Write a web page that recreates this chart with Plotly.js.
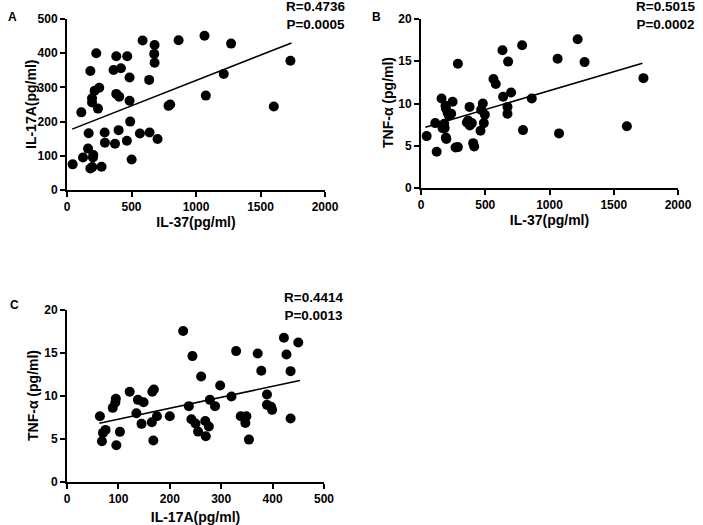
<!DOCTYPE html>
<html>
<head>
<meta charset="utf-8">
<script src="https://cdn.plot.ly/plotly-3.0.1.min.js"></script>
<style>
  html, body { margin: 0; padding: 0; background: #fff; }
  #chart { width: 703px; height: 525px; }
</style>
</head>
<body>
<div id="chart"></div>
<script>
// Panel A: IL-37 vs IL-17A
const il37A = [44, 111, 124, 168, 163, 181, 181, 196, 194, 194, 204, 201, 214, 227, 240, 250, 268, 292, 294,
    361, 372, 382, 382, 405, 400, 418, 464, 467, 485, 485, 490, 501, 565, 586, 637, 640, 679, 676, 679, 702,
    787, 800, 865, 1066, 1076, 1215, 1272, 1603, 1732];
const il17A_A = [75, 227, 95, 166, 121, 348, 63, 67, 268, 256, 102, 95, 290, 400, 238, 299, 68, 168, 138,
    351, 135, 391, 281, 273, 175, 356, 144, 391, 329, 261, 200, 89, 165, 437, 322, 168, 424, 398, 372, 149,
    246, 250, 438, 451, 276, 339, 428, 244, 378];
const fitAx = [40, 1740];
const fitAy = [178, 430];

// Panel B: IL-37 vs TNF-a
const il37B = [44, 111, 122, 160, 168, 181, 184, 191, 194, 194, 197, 207, 217, 235, 246, 269, 287, 287,
    357, 367, 378, 380, 396, 406, 414, 463, 468, 481, 489, 497, 564, 582, 634, 639, 673, 673, 678, 701,
    787, 794, 862, 1063, 1074, 1219, 1273, 1602, 1731];
const tnfB = [6.14, 7.68, 4.29, 10.6, 7.09, 7.6, 7.09, 9.72, 9.4, 5.98, 5.79, 8.9, 8.58, 8.78, 10.2, 4.8, 4.84, 14.7,
    7.76, 7.99, 9.6, 7.4, 7.68, 5.31, 4.92, 6.77, 9.25, 10.0, 7.68, 8.66, 12.9, 12.3, 16.3, 10.8, 9.6, 8.78, 14.96, 11.3,
    16.9, 6.85, 10.6, 15.3, 6.46, 17.6, 14.9, 7.3, 13.0];
const fitBx = [34, 1723];
const fitBy = [7.2, 14.76];

// Panel C: IL-17A vs TNF-a
const il17C = [64, 68, 70, 75, 89, 94, 95, 96, 103, 122, 135, 138, 145, 149, 165, 166, 169, 168, 175, 200,
    226, 237, 242, 244, 250, 255, 261, 269, 270, 276, 278, 288, 298, 320, 329, 338, 347, 349, 354,
    371, 378, 389, 389, 397, 399, 422, 427, 435, 435, 450];
const tnfC = [7.65, 4.74, 5.71, 6.06, 8.62, 9.24, 9.67, 4.27, 5.83, 10.5, 8.0, 9.55, 6.76, 9.28, 6.95, 10.5, 10.76, 4.82, 7.65, 7.65,
    17.55, 8.82, 7.3, 14.64, 6.8, 5.86, 12.27, 7.1, 5.32, 6.45, 9.55, 8.82, 11.22, 9.94, 15.22, 7.65, 6.87, 7.65, 4.93,
    14.95, 12.93, 10.17, 8.97, 8.74, 8.39, 16.78, 14.83, 12.89, 7.38, 16.23];
const fitCx = [63, 453];
const fitCy = [6.83, 11.8];

const FONT = 'Liberation Sans, Arial, sans-serif';

function dots(x, y, xa, ya) {
    return {
        x: x, y: y, xaxis: xa, yaxis: ya,
        type: 'scatter', mode: 'markers',
        marker: { color: '#000', size: 10 },
        hoverinfo: 'x+y', showlegend: false,
    };
}

function fit(x, y, xa, ya) {
    return {
        x: x, y: y, xaxis: xa, yaxis: ya,
        type: 'scatter', mode: 'lines',
        line: { color: '#000', width: 1.6 },
        hoverinfo: 'skip', showlegend: false,
    };
}

function axis(domain, range, dtick, anchor) {
    return {
        domain: domain,
        range: range,
        dtick: dtick,
        tick0: 0,
        anchor: anchor,
        showgrid: false,
        zeroline: false,
        showline: true,
        linecolor: '#000',
        linewidth: 2,
        ticks: 'outside',
        ticklen: 5,
        tickwidth: 2,
        tickcolor: '#000',
        tickfont: { family: FONT, size: 12, color: '#000', weight: 700 },
        automargin: false,
        fixedrange: true,
    };
}

function xTitle(ax, text, standoff) {
    ax.title = { text: '<b>' + text + '</b>', font: { family: FONT, size: 14, color: '#000' }, standoff: standoff };
    return ax;
}

function label(x, y, text, size, anchor, angle) {
    return {
        xref: 'paper', yref: 'paper', x: x / 703, y: 1 - y / 525,
        text: '<b>' + text + '</b>', showarrow: false,
        xanchor: anchor, yanchor: 'middle', textangle: angle || 0,
        font: { family: FONT, size: size, color: '#000' },
    };
}

const data = [
    dots(il37A, il17A_A, 'x', 'y'),
    fit(fitAx, fitAy, 'x', 'y'),
    dots(il37B, tnfB, 'x2', 'y2'),
    fit(fitBx, fitBy, 'x2', 'y2'),
    dots(il17C, tnfC, 'x3', 'y3'),
    fit(fitCx, fitCy, 'x3', 'y3'),
];

const layout = {
    width: 703,
    height: 525,
    margin: { l: 0, r: 0, t: 0, b: 0 },
    paper_bgcolor: '#fff',
    plot_bgcolor: 'rgba(0,0,0,0)',
    font: { family: FONT, color: '#000' },
    xaxis: xTitle(axis([67 / 703, 325 / 703], [0, 2000], 500, 'y'), 'IL-37(pg/ml)', 2),
    yaxis: axis([1 - 190 / 525, 1 - 19 / 525], [0, 500], 100, 'x'),
    xaxis2: xTitle(axis([421 / 703, 678 / 703], [0, 2000], 500, 'y2'), 'IL-37(pg/ml)', 2),
    yaxis2: axis([1 - 188 / 525, 1 - 19 / 525], [0, 20], 5, 'x2'),
    xaxis3: xTitle(axis([67 / 703, 324 / 703], [0, 500], 100, 'y3'), 'IL-17A(pg/ml)', 8),
    yaxis3: axis([1 - 482 / 525, 1 - 310 / 525], [0, 20], 5, 'x3'),
    annotations: [
        label(6, 17, 'A', 12, 'left'),
        label(370, 17, 'B', 12, 'left'),
        label(8, 305, 'C', 12, 'left'),
        label(31, 105, 'IL-17A(pg/ml)', 14, 'center', -90),
        label(388, 103, 'TNF-α (pg/ml)', 14, 'center', -90),
        label(33, 396, 'TNF-α (pg/ml)', 14, 'center', -90),
        label(347, 16, 'R=0.4736<br>P=0.0005', 13.5, 'right'),
        label(697, 16, 'R=0.5015<br>P=0.0002', 13.5, 'right'),
        label(345, 306, 'R=0.4414<br>P=0.0013', 13.5, 'right'),
    ],
};

Plotly.newPlot('chart', data, layout, { displayModeBar: false, staticPlot: true });
</script>
</body>
</html>
